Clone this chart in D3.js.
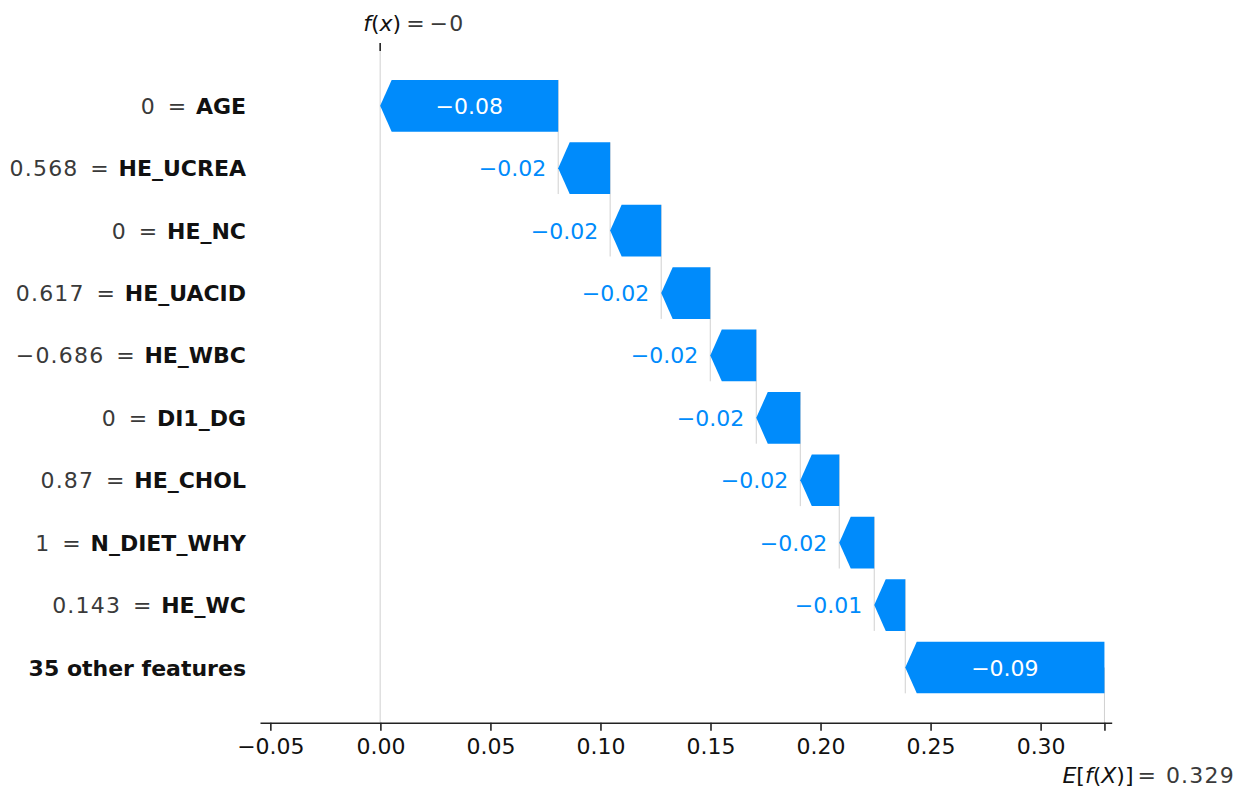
<!DOCTYPE html>
<html>
<head>
<meta charset="utf-8">
<script src="https://cdn.jsdelivr.net/npm/d3@7"></script>
<style>
  html, body { margin: 0; padding: 0; background: #ffffff; }
  svg { display: block; font-family: "DejaVu Sans", sans-serif; }
</style>
</head>
<body>
<svg id="chart" width="1248" height="794"></svg>
<script>
// Waterfall of feature contributions, top row first.
const featureNames = ["AGE", "HE_UCREA", "HE_NC", "HE_UACID", "HE_WBC", "DI1_DG",
                      "HE_CHOL", "N_DIET_WHY", "HE_WC", "35 other features"];
const featureValues = ["0", "0.568", "0", "0.617", "\u22120.686", "0", "0.87", "1", "0.143", null];
const contributions = [-0.0809, -0.0236, -0.0232, -0.0223, -0.0209, -0.0200,
                       -0.0177, -0.0159, -0.0141, -0.0905];
const baseValue = 0.329;
const xTicks = [-0.05, 0.00, 0.05, 0.10, 0.15, 0.20, 0.25, 0.30];

const blue = "#008bfb";
const fontSize = 22;
const numSpacing = 1.2;   // extra spacing used for the grey numeric values

const svg = d3.select("#chart");

const x = d3.scaleLinear().domain([-0.0547, 0.3323]).range([260, 1111.7]);
const y = d3.scalePoint().domain(featureNames).range([105.8, 667.5]);
const barH = 51.7;
const headLen = 11.5;
const axisY = 722.7;

// cumulative positions: walk up from the base value (bottom row) to f(x)
const n = featureNames.length;
const starts = new Array(n), ends = new Array(n);
let acc = baseValue;
for (let i = n - 1; i >= 0; i--) {
  starts[i] = acc;
  acc += contributions[i];
  ends[i] = acc;
}
const fx = acc;

const minus = s => s.replace(/-/g, "\u2212");
function fmtShort(v) {
  const s = v.toFixed(3).replace(/0+$/, "").replace(/\.$/, "");
  return minus(s);
}

// light guide lines (drawn first so bars sit on top)
const guides = svg.append("g").attr("stroke", "#d0d0d0").attr("stroke-width", 1);
guides.append("line")
  .attr("x1", x(fx)).attr("x2", x(fx))
  .attr("y1", 51).attr("y2", axisY);
guides.append("line")
  .attr("x1", x(baseValue)).attr("x2", x(baseValue))
  .attr("y1", y(featureNames[n - 1])).attr("y2", axisY);
for (let i = 0; i < n - 1; i++) {
  guides.append("line")
    .attr("x1", x(starts[i])).attr("x2", x(starts[i]))
    .attr("y1", y(featureNames[i]) - barH / 2)
    .attr("y2", y(featureNames[i + 1]) + barH / 2);
}

// arrow-shaped bars
const bars = svg.append("g");
featureNames.forEach((name, i) => {
  const xs = x(starts[i]), xe = x(ends[i]);
  const cy = y(name), top = cy - barH / 2, bot = cy + barH / 2;
  const dir = xe < xs ? 1 : -1;
  const hl = Math.min(headLen, Math.abs(xs - xe));
  const pts = [[xs, top], [xe + dir * hl, top], [xe, cy], [xe + dir * hl, bot], [xs, bot]];
  bars.append("path")
    .attr("d", d3.line()(pts) + "Z")
    .attr("fill", blue);

  const label = bars.append("text")
    .attr("font-size", fontSize)
    .attr("y", cy + 8)
    .text(minus(contributions[i].toFixed(2)));
  const tw = label.node().getComputedTextLength();
  if (tw + 16 < Math.abs(xs - xe) - hl) {
    label.attr("x", (xs + xe) / 2).attr("text-anchor", "middle").attr("fill", "#ffffff");
  } else {
    label.attr("x", Math.min(xs, xe) - 12).attr("text-anchor", "end").attr("fill", blue);
  }
});

// row labels: "value = name"
const labels = svg.append("g").attr("font-size", fontSize);
const labelRight = 246;
featureNames.forEach((name, i) => {
  const cy = y(name) + 8;
  const nm = labels.append("text")
    .attr("x", labelRight).attr("y", cy)
    .attr("text-anchor", "end")
    .attr("font-weight", "bold")
    .attr("fill", "#111111")
    .text(name);
  if (featureValues[i] === null) return;
  const left = labelRight - nm.node().getComputedTextLength();
  labels.append("text")
    .attr("x", left - 19).attr("y", cy)
    .attr("text-anchor", "middle")
    .attr("fill", "#3a3a3a")
    .text("=");
  labels.append("text")
    .attr("x", left - 40).attr("y", cy)
    .attr("text-anchor", "end")
    .attr("letter-spacing", numSpacing)
    .attr("fill", "#3a3a3a")
    .text(featureValues[i]);
});

// bottom axis
const axis = d3.axisBottom(x)
  .tickValues(xTicks.concat([baseValue]))
  .tickFormat(d => xTicks.includes(d) ? minus(d.toFixed(2)) : "")
  .tickSize(8).tickSizeOuter(0).tickPadding(8);
const gAxis = svg.append("g").attr("transform", `translate(0,${axisY})`).call(axis);
gAxis.select(".domain").attr("stroke", "#222").attr("stroke-width", 1.6);
gAxis.selectAll(".tick line").attr("stroke", "#222").attr("stroke-width", 1.6);
gAxis.selectAll(".tick text").attr("font-size", fontSize).attr("fill", "#111")
  .attr("font-family", "DejaVu Sans");

// f(x) marker at the top
svg.append("line")
  .attr("x1", x(fx)).attr("x2", x(fx)).attr("y1", 43).attr("y2", 51)
  .attr("stroke", "#222").attr("stroke-width", 1.6);
const fxText = svg.append("text").attr("font-size", fontSize)
  .attr("x", x(fx) - 17).attr("y", 30.5).attr("fill", "#111");
fxText.append("tspan").attr("font-style", "italic").text("f");
fxText.append("tspan").text("(");
fxText.append("tspan").attr("font-style", "italic").text("x");
fxText.append("tspan").text(")");
const fxVal = svg.append("text").attr("font-size", fontSize)
  .attr("x", x(fx) + 26).attr("y", 30.5).attr("fill", "#3a3a3a");
fxVal.append("tspan").text("=");
fxVal.append("tspan").attr("dx", 5).attr("letter-spacing", numSpacing).text(fmtShort(fx));

// E[f(X)] label below the base tick
const eText = svg.append("text").attr("font-size", fontSize)
  .attr("x", x(baseValue) - 42).attr("y", 783).attr("fill", "#111");
eText.append("tspan").attr("font-style", "italic").text("E");
eText.append("tspan").text("[");
eText.append("tspan").attr("font-style", "italic").text("f");
eText.append("tspan").text("(");
eText.append("tspan").attr("font-style", "italic").text("X");
eText.append("tspan").text(")]");
const eVal = svg.append("text").attr("font-size", fontSize)
  .attr("x", x(baseValue) + 33).attr("y", 783).attr("fill", "#3a3a3a");
eVal.append("tspan").text("=");
eVal.append("tspan").attr("dx", 10).attr("letter-spacing", numSpacing).text(fmtShort(baseValue));
</script>
</body>
</html>
